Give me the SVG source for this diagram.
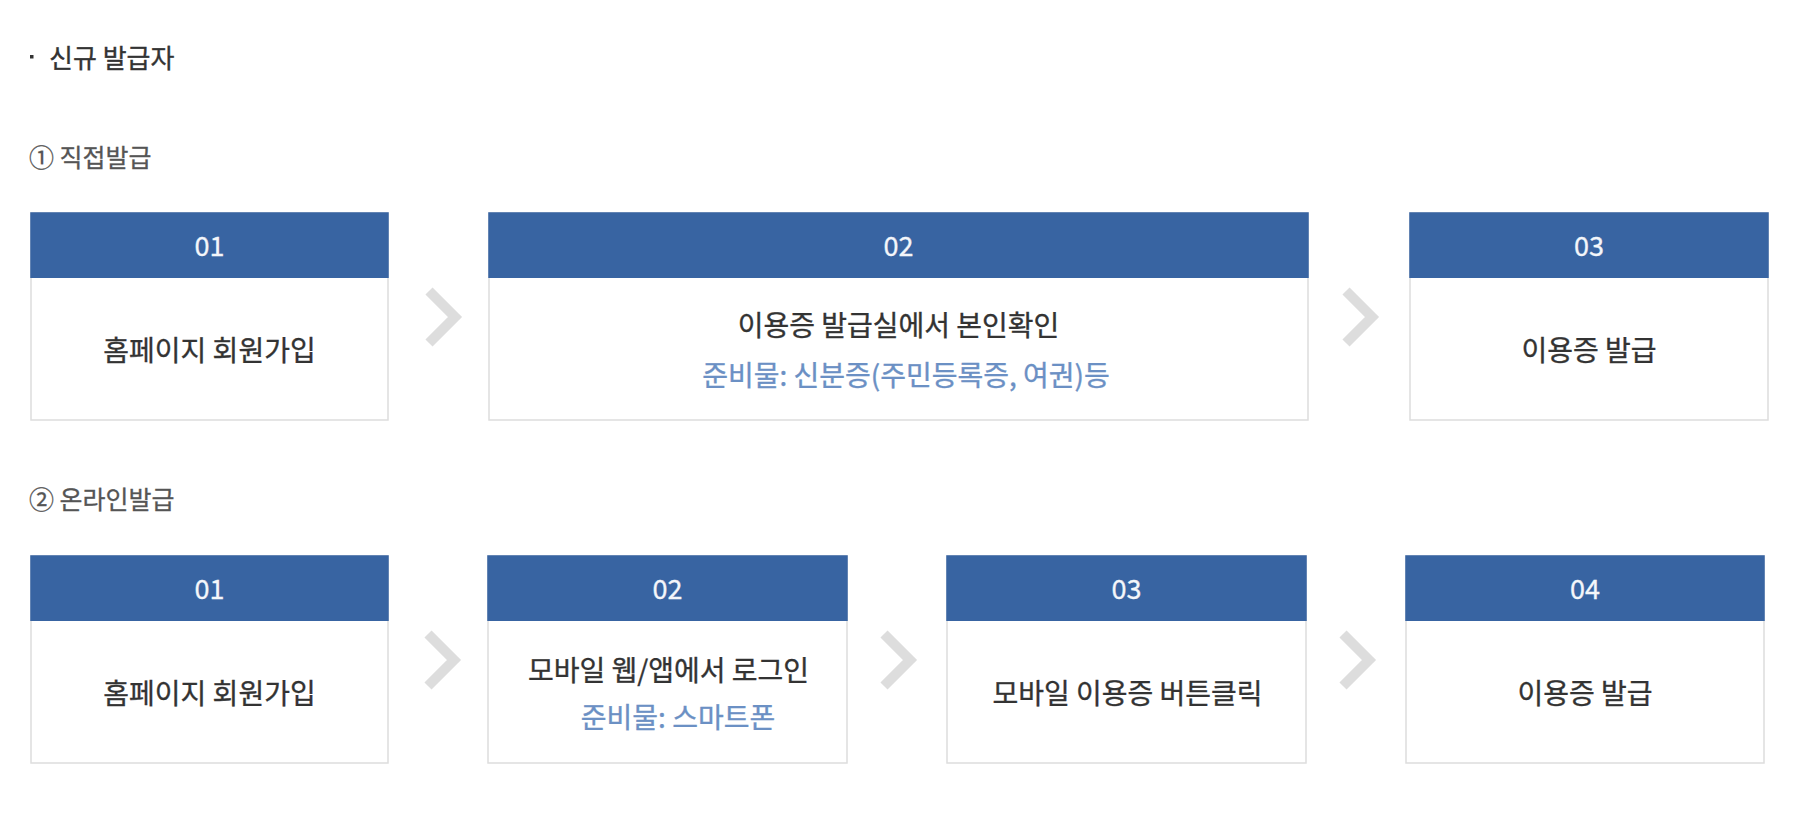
<svg xmlns="http://www.w3.org/2000/svg" width="1816" height="826" viewBox="0 0 1816 826">
<style>
  text { font-family: "Noto Sans CJK KR", "Noto Sans", sans-serif; }
  .box { fill: #ffffff; stroke: #dddddd; stroke-width: 1.5; }
  .head { fill: #3864a2; }
  .num { fill: #f4f6fa; stroke: #f4f6fa; stroke-width: 0.3; font-size: 27px; text-anchor: middle; }
  .body { fill: #333333; stroke: #333333; stroke-width: 0.35; font-size: 28px; text-anchor: middle; }
  .sub { fill: #6b90c4; stroke: #6b90c4; stroke-width: 0.35; font-size: 28px; text-anchor: middle; }
  .title { fill: #333333; stroke: #333333; stroke-width: 0.35; font-size: 26px; }
  .section { fill: #555555; stroke: #555555; stroke-width: 0.3; font-size: 25px; }
  .chev { fill: none; stroke: #dddddd; stroke-width: 10; stroke-linejoin: miter; stroke-linecap: butt; }
</style>
<defs>
  <polyline id="chevron" class="chev" points="-13,-26 13,0 -13,26"/>
</defs>
<rect width="1816" height="826" fill="#ffffff"/>

<g id="title">
  <rect x="30" y="55" width="3.5" height="3.5" fill="#333333"/>
  <text class="title" x="49" y="68">신규 발급자</text>
</g>

<g id="section1">
  <text class="section" x="29" y="166.5">① 직접발급</text>
</g>

<g id="r1-step1">
  <rect class="box" x="31" y="213" width="357" height="207"/>
  <rect class="head" x="30.25" y="212.25" width="358.5" height="65.75"/>
  <text class="num" x="209.5" y="255.5">01</text>
  <text class="body" x="209.5" y="360.5">홈페이지 회원가입</text>
</g>

<g id="r1-step2">
  <rect class="box" x="489" y="213" width="819" height="207"/>
  <rect class="head" x="488.25" y="212.25" width="820.5" height="65.75"/>
  <text class="num" x="898.5" y="255.5">02</text>
  <text class="body" x="898.5" y="336">이용증 발급실에서 본인확인</text>
  <text class="sub" x="906" y="385.5">준비물: 신분증(주민등록증, 여권)등</text>
</g>

<g id="r1-step3">
  <rect class="box" x="1410" y="213" width="358" height="207"/>
  <rect class="head" x="1409.25" y="212.25" width="359.5" height="65.75"/>
  <text class="num" x="1589" y="255.5">03</text>
  <text class="body" x="1589" y="360.5">이용증 발급</text>
</g>

<g id="section2">
  <text class="section" x="29" y="509">② 온라인발급</text>
</g>

<g id="r2-step1">
  <rect class="box" x="31" y="556" width="357" height="207"/>
  <rect class="head" x="30.25" y="555.25" width="358.5" height="65.75"/>
  <text class="num" x="209.5" y="598.5">01</text>
  <text class="body" x="209.5" y="703.5">홈페이지 회원가입</text>
</g>

<g id="r2-step2">
  <rect class="box" x="488" y="556" width="359" height="207"/>
  <rect class="head" x="487.25" y="555.25" width="360.5" height="65.75"/>
  <text class="num" x="667.5" y="598.5">02</text>
  <text class="body" x="668.5" y="680.5">모바일 웹/앱에서 로그인</text>
  <text class="sub" x="678" y="727.5">준비물: 스마트폰</text>
</g>

<g id="r2-step3">
  <rect class="box" x="947" y="556" width="359" height="207"/>
  <rect class="head" x="946.25" y="555.25" width="360.5" height="65.75"/>
  <text class="num" x="1126.5" y="598.5">03</text>
  <text class="body" x="1127.5" y="703.5">모바일 이용증 버튼클릭</text>
</g>

<g id="r2-step4">
  <rect class="box" x="1406" y="556" width="358" height="207"/>
  <rect class="head" x="1405.25" y="555.25" width="359.5" height="65.75"/>
  <text class="num" x="1585" y="598.5">04</text>
  <text class="body" x="1585" y="703.5">이용증 발급</text>
</g>

<g id="connectors">
  <use href="#chevron" x="442" y="317"/>
  <use href="#chevron" x="1359" y="317"/>
  <use href="#chevron" x="441" y="660"/>
  <use href="#chevron" x="897" y="660"/>
  <use href="#chevron" x="1356" y="660"/>
</g>
</svg>
